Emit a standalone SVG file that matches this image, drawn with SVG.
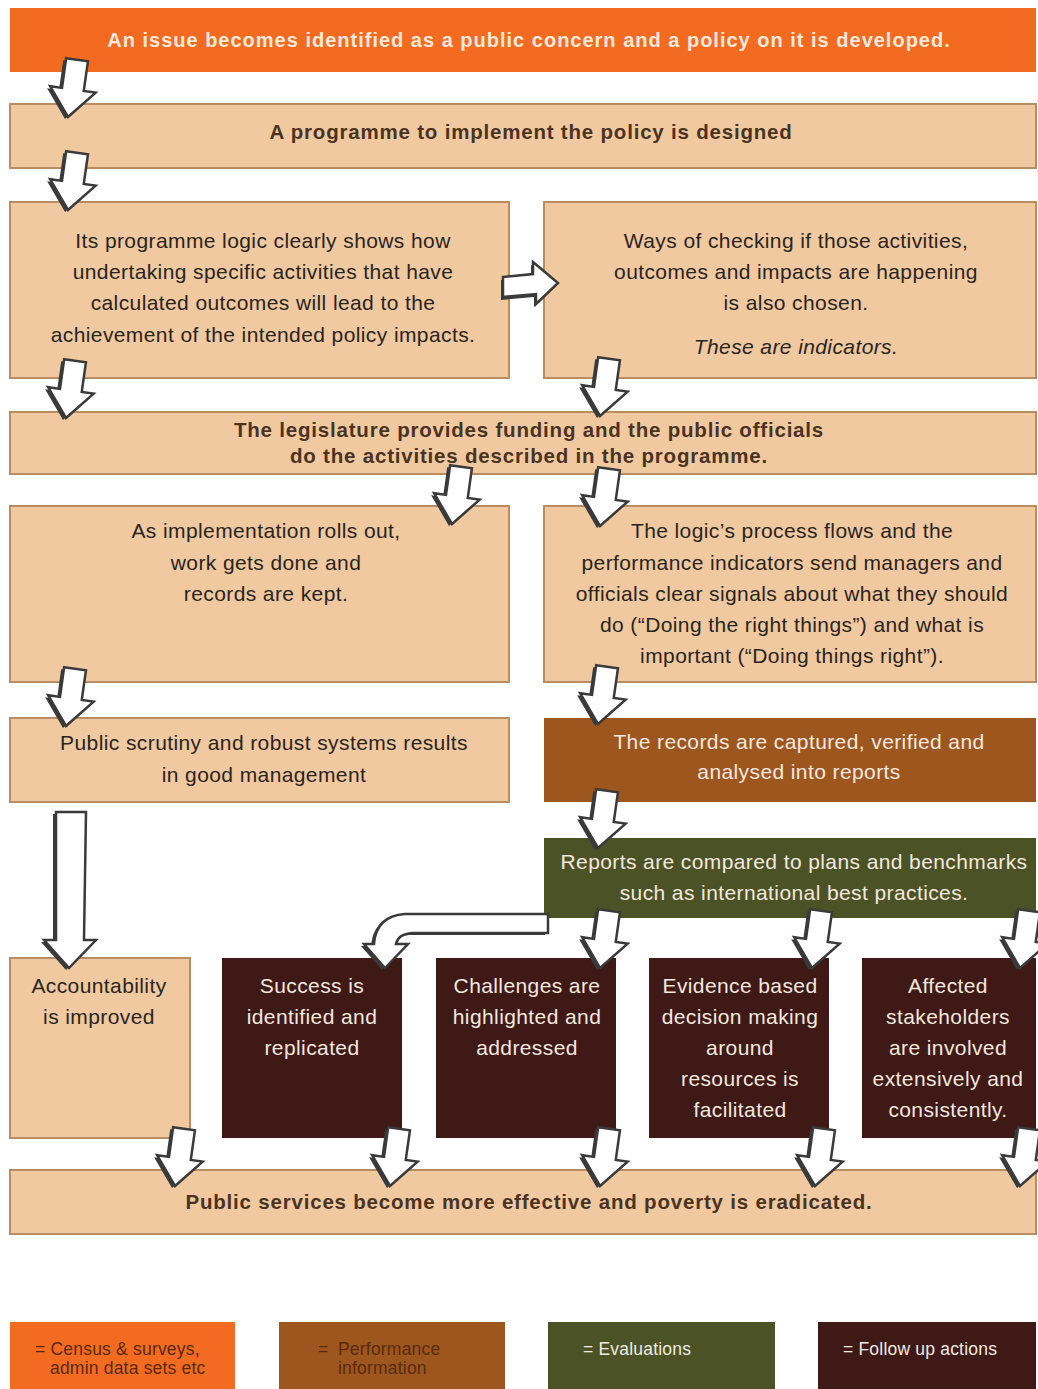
<svg xmlns="http://www.w3.org/2000/svg" xmlns:xlink="http://www.w3.org/1999/xlink" width="1038" height="1389" viewBox="0 0 1038 1389">
<style>
text{font-family:"Liberation Sans",Arial,sans-serif;text-anchor:middle}
.tan{fill:#f1c9a0;stroke:#b98d62;stroke-width:2}
.orange{fill:#f36b20}
.brown{fill:#9e561f}
.green{fill:#4b5326}
.maroon{fill:#3e1915}
.n{font-size:21px;letter-spacing:0.4px;fill:#2a2420}
.b{font-size:20.5px;letter-spacing:0.8px;font-weight:bold;fill:#4a3320}
.w{font-size:21px;letter-spacing:0.4px;fill:#f3e8df}
.it{font-style:italic}
.lg{font-size:17.5px;letter-spacing:0.2px;text-anchor:start}
.lgd{fill:#5a2a0e}
.lgw{fill:#f0ebe0}
.ash{fill:#3a3a3a}
.afg{fill:#ffffff;stroke:#3a3a3a;stroke-width:2.5;stroke-linejoin:miter}
</style>
<defs>
<g id="arr">
<path class="ash" transform="translate(-3,2) rotate(8)" d="M-10,-58 L12,-58 L12,-28 L24,-28 L0,0 L-22,-28 L-10,-28 Z"/>
<path class="afg" transform="rotate(8)" d="M-10,-58 L12,-58 L12,-28 L24,-28 L0,0 L-22,-28 L-10,-28 Z"/>
</g>
</defs>
<rect width="1038" height="1389" fill="#ffffff"/>

<g id="n1"><rect class="orange" x="10" y="8" width="1026" height="64"/>
<text x="529" y="47" style="font-size:20px;letter-spacing:1px;font-weight:bold;fill:#fbe9dc">An issue becomes identified as a public concern and a policy on it is developed.</text></g>

<g id="n2"><rect class="tan" x="10" y="104" width="1026" height="64"/>
<text class="b" x="531" y="139">A programme to implement the policy is designed</text></g>

<g id="n3"><rect class="tan" x="10" y="202" width="499" height="176"/>
<text class="n" x="263" y="248">Its programme logic clearly shows how</text>
<text class="n" x="263" y="279">undertaking specific activities that have</text>
<text class="n" x="263" y="310">calculated outcomes will lead to the</text>
<text class="n" x="263" y="342">achievement of the intended policy impacts.</text></g>

<g id="n4"><rect class="tan" x="544" y="202" width="492" height="176"/>
<text class="n" x="796" y="248">Ways of checking if those activities,</text>
<text class="n" x="796" y="279">outcomes and impacts are happening</text>
<text class="n" x="796" y="310">is also chosen.</text>
<text class="n it" x="796" y="354">These are indicators.</text></g>

<g id="n5"><rect class="tan" x="10" y="412" width="1026" height="62"/>
<text class="b" x="529" y="437">The legislature provides funding and the public officials</text>
<text class="b" x="529" y="463">do the activities described in the programme.</text></g>

<g id="n6"><rect class="tan" x="10" y="506" width="499" height="176"/>
<text class="n" x="266" y="538">As implementation rolls out,</text>
<text class="n" x="266" y="570">work gets done and</text>
<text class="n" x="266" y="601">records are kept.</text></g>

<g id="n7"><rect class="tan" x="544" y="506" width="492" height="176"/>
<text class="n" x="792" y="538">The logic’s process flows and the</text>
<text class="n" x="792" y="570">performance indicators send managers and</text>
<text class="n" x="792" y="601">officials clear signals about what they should</text>
<text class="n" x="792" y="632">do (“Doing the right things”) and what is</text>
<text class="n" x="792" y="663">important (“Doing things right”).</text></g>

<g id="n8"><rect class="tan" x="10" y="718" width="499" height="84"/>
<text class="n" x="264" y="750">Public scrutiny and robust systems results</text>
<text class="n" x="264" y="782">in good management</text></g>

<g id="n9"><rect class="brown" x="544" y="718" width="492" height="84"/>
<text class="w" x="799" y="749">The records are captured, verified and</text>
<text class="w" x="799" y="779">analysed into reports</text></g>

<g id="n10"><rect class="green" x="544" y="838" width="492" height="80"/>
<text class="w" x="794" y="869">Reports are compared to plans and benchmarks</text>
<text class="w" x="794" y="900">such as international best practices.</text></g>

<g id="n11"><rect class="tan" x="10" y="958" width="180" height="180"/>
<text class="n" x="99" y="993">Accountability</text>
<text class="n" x="99" y="1024">is improved</text></g>

<g id="n12"><rect class="maroon" x="222" y="958" width="180" height="180"/>
<text class="w" x="312" y="993">Success is</text>
<text class="w" x="312" y="1024">identified and</text>
<text class="w" x="312" y="1055">replicated</text></g>

<g id="n13"><rect class="maroon" x="436" y="958" width="180" height="180"/>
<text class="w" x="527" y="993">Challenges are</text>
<text class="w" x="527" y="1024">highlighted and</text>
<text class="w" x="527" y="1055">addressed</text></g>

<g id="n14"><rect class="maroon" x="649" y="958" width="180" height="180"/>
<text class="w" x="740" y="993">Evidence based</text>
<text class="w" x="740" y="1024">decision making</text>
<text class="w" x="740" y="1055">around</text>
<text class="w" x="740" y="1086">resources is</text>
<text class="w" x="740" y="1117">facilitated</text></g>

<g id="n15"><rect class="maroon" x="862" y="958" width="174" height="180"/>
<text class="w" x="948" y="993">Affected</text>
<text class="w" x="948" y="1024">stakeholders</text>
<text class="w" x="948" y="1055">are involved</text>
<text class="w" x="948" y="1086">extensively and</text>
<text class="w" x="948" y="1117">consistently.</text></g>

<g id="n16"><rect class="tan" x="10" y="1170" width="1026" height="64"/>
<text class="b" x="529" y="1209">Public services become more effective and poverty is eradicated.</text></g>

<g id="legend">
<rect class="orange" x="10" y="1322" width="225" height="67"/>
<text class="lg lgd" x="35" y="1355">= Census &amp; surveys,</text>
<text class="lg lgd" x="50" y="1374">admin data sets etc</text>
<rect class="brown" x="279" y="1322" width="226" height="67"/>
<text class="lg lgd" x="318" y="1355">=</text>
<text class="lg lgd" x="338" y="1355">Performance</text>
<text class="lg lgd" x="338" y="1374">information</text>
<rect class="green" x="548" y="1322" width="227" height="67"/>
<text class="lg lgw" x="583" y="1355">= Evaluations</text>
<rect class="maroon" x="818" y="1322" width="218" height="67"/>
<text class="lg lgw" x="843" y="1355">= Follow up actions</text>
</g>

<g id="connectors">
<use href="#arr" x="68" y="117"/>
<use href="#arr" x="68" y="210"/>
<use href="#arr" x="66" y="418"/>
<use href="#arr" x="600" y="416"/>
<use href="#arr" x="452" y="524"/>
<use href="#arr" x="600" y="526"/>
<use href="#arr" x="66" y="726"/>
<use href="#arr" x="598" y="724"/>
<use href="#arr" x="598" y="848"/>
<use href="#arr" x="600" y="968"/>
<use href="#arr" x="812" y="968"/>
<use href="#arr" x="1020" y="968"/>
<use href="#arr" x="175" y="1186"/>
<use href="#arr" x="390" y="1186"/>
<use href="#arr" x="600" y="1186"/>
<use href="#arr" x="815" y="1186"/>
<use href="#arr" x="1020" y="1186"/>
<path class="ash" transform="translate(-2,3)" d="M503,277 L533,274 L533,262 L558,283 L536,304 L536,294 L503,297 Z"/>
<path class="afg" d="M503,277 L533,274 L533,262 L558,283 L536,304 L536,294 L503,297 Z"/>
<path class="ash" transform="translate(-3,2)" d="M56,812 L86,812 L84,940 L96,940 L69,968 L44,940 L56,940 Z"/>
<path class="afg" d="M56,812 L86,812 L84,940 L96,940 L69,968 L44,940 L56,940 Z"/>
<path class="ash" transform="translate(-3,2)" d="M548,914 L405,914 Q376,916 374,944 L364,944 L385,968 L408,944 L396,944 Q398,934 412,933 L548,933 Z"/>
<path class="afg" d="M548,914 L405,914 Q376,916 374,944 L364,944 L385,968 L408,944 L396,944 Q398,934 412,933 L548,933 Z"/>
</g>
</svg>
